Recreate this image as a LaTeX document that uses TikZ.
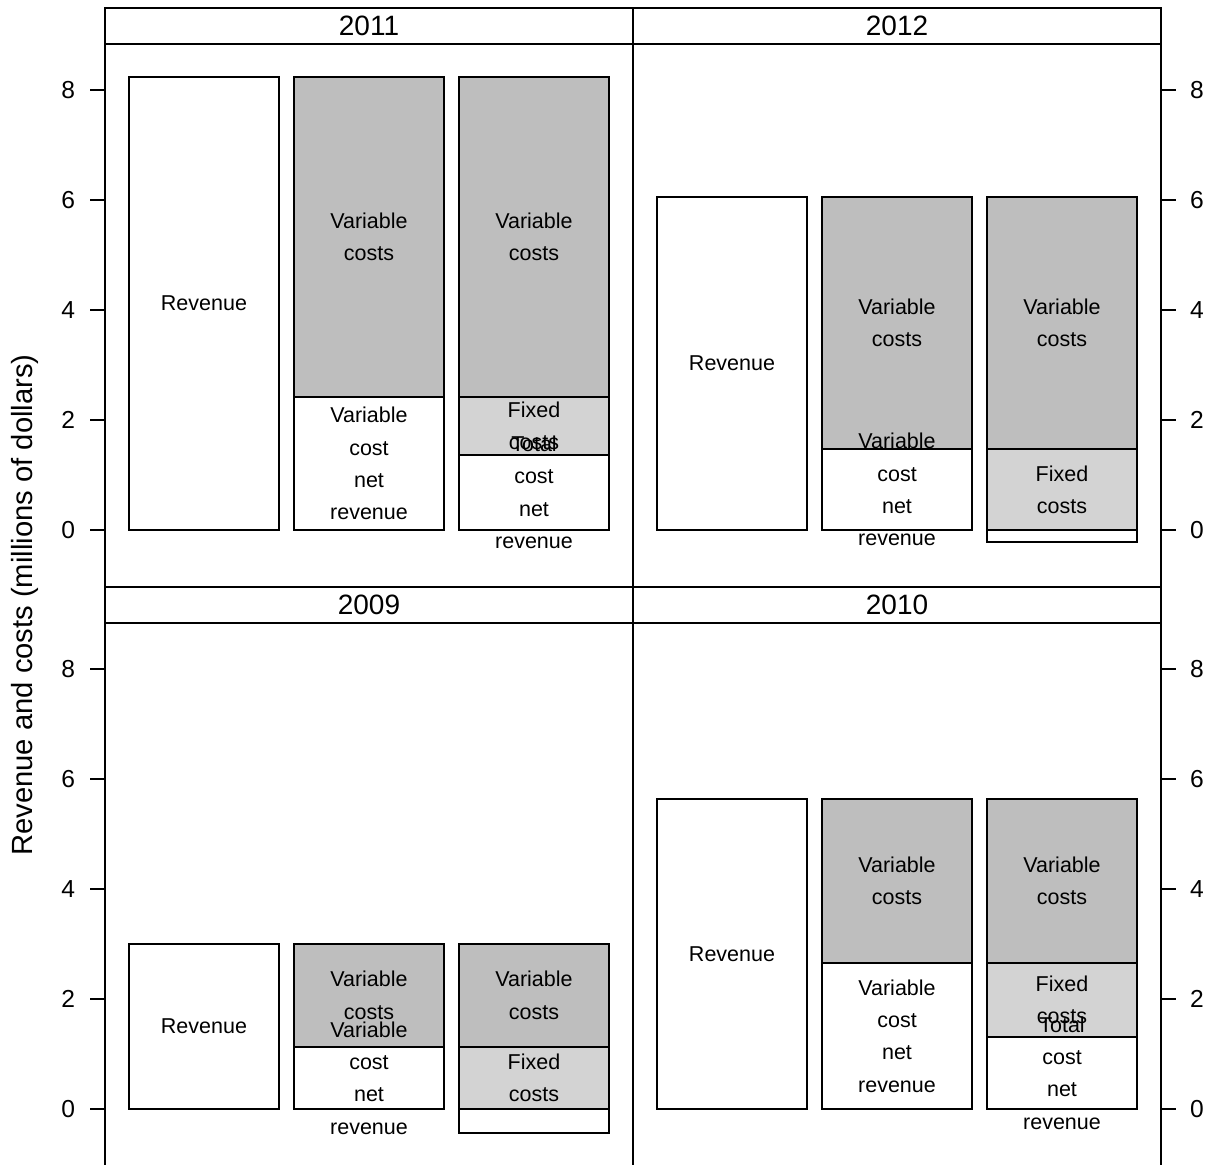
\documentclass[tikz,border=0pt]{standalone}
\usepackage{fontspec}
\setmainfont{Liberation Sans}
\definecolor{varfill}{gray}{0.745}
\definecolor{fixfill}{gray}{0.827}

\begin{document}
\begin{tikzpicture}
    [x=0.5pt, y=-0.5pt, line width=1pt,
     every node/.style={font=\fontsize{10.75}{16.2}\selectfont, align=center},
     ticknum/.style={font=\fontsize{12.3}{14}\selectfont},
     striptext/.style={font=\fontsize{14}{16}\selectfont},
     axistitle/.style={font=\fontsize{14.6}{16}\selectfont},
     varcost/.style={draw, fill=varfill},
     fixcost/.style={draw, fill=fixfill},
     netrev/.style={draw, fill=white},
     panelbox/.style={draw, fill=none}]

    \useasboundingbox (0,0) rectangle (1209,1164);
    \clip (0,0) rectangle (1209,1164);

    \node[axistitle, rotate=90] (ylab) at (25,605) {Revenue and costs (millions of dollars)};

    % 2011
    \begin{scope}[shift={(105,530)}, y=27.5pt]
      \draw[panelbox] (0,-1.036) rectangle (528,9.491);
      \draw (0,8.836) -- (528,8.836);
      \node[striptext] (s11) at (264,9.164) {2011};
      \foreach \v in {0,2,...,8}
        \draw (0,\v) -- (-15,\v) node[ticknum, left, inner xsep=7pt] (t11-\v) {\v};
      \draw[netrev] (24,0) rectangle (174,8.236);
      \draw[varcost] (189,2.418) rectangle (339,8.236);
      \draw[netrev] (189,0) rectangle (339,2.418);
      \draw[varcost] (354,2.418) rectangle (504,8.236);
      \draw[fixcost] (354,1.364) rectangle (504,2.418);
      \draw[netrev] (354,0) rectangle (504,1.364);
      \node (rev11) at (99,4.118) {Revenue};
      \node (var11b) at (264,5.327) {Variable\\costs};
      \node (net11b) at (264,1.209) {Variable\\cost\\net\\revenue};
      \node (var11c) at (429,5.327) {Variable\\costs};
      \node (fix11c) at (429,1.891) {Fixed\\costs};
      \node (net11c) at (429,0.682) {Total\\cost\\net\\revenue};
    \end{scope}

    % 2012
    \begin{scope}[shift={(633,530)}, y=27.5pt]
      \draw[panelbox] (0,-1.036) rectangle (528,9.491);
      \draw (0,8.836) -- (528,8.836);
      \node[striptext] (s12) at (264,9.164) {2012};
      \foreach \v in {0,2,...,8}
        \draw (528,\v) -- (543,\v) node[ticknum, right, inner xsep=6.5pt] (t12-\v) {\v};
      \draw[netrev] (24,0) rectangle (174,6.055);
      \draw[varcost] (189,1.473) rectangle (339,6.055);
      \draw[netrev] (189,0) rectangle (339,1.473);
      \draw[varcost] (354,1.473) rectangle (504,6.055);
      \draw[fixcost] (354,0) rectangle (504,1.473);
      \draw[netrev] (354,-0.218) rectangle (504,0);
      \node (rev12) at (99,3.027) {Revenue};
      \node (var12b) at (264,3.764) {Variable\\costs};
      \node (net12b) at (264,0.736) {Variable\\cost\\net\\revenue};
      \node (var12c) at (429,3.764) {Variable\\costs};
      \node (fix12c) at (429,0.736) {Fixed\\costs};
    \end{scope}

    % 2009
    \begin{scope}[shift={(105,1109)}, y=27.5pt]
      \draw[panelbox] (0,-1.036) rectangle (528,9.491);
      \draw (0,8.836) -- (528,8.836);
      \node[striptext] (s09) at (264,9.164) {2009};
      \foreach \v in {0,2,...,8}
        \draw (0,\v) -- (-15,\v) node[ticknum, left, inner xsep=7pt] (t09-\v) {\v};
      \draw[netrev] (24,0) rectangle (174,3.0);
      \draw[varcost] (189,1.127) rectangle (339,3.0);
      \draw[netrev] (189,0) rectangle (339,1.127);
      \draw[varcost] (354,1.127) rectangle (504,3.0);
      \draw[fixcost] (354,0) rectangle (504,1.127);
      \draw[netrev] (354,-0.436) rectangle (504,0);
      \node (rev09) at (99,1.5) {Revenue};
      \node (var09b) at (264,2.064) {Variable\\costs};
      \node (net09b) at (264,0.564) {Variable\\cost\\net\\revenue};
      \node (var09c) at (429,2.064) {Variable\\costs};
      \node (fix09c) at (429,0.564) {Fixed\\costs};
    \end{scope}

    % 2010
    \begin{scope}[shift={(633,1109)}, y=27.5pt]
      \draw[panelbox] (0,-1.036) rectangle (528,9.491);
      \draw (0,8.836) -- (528,8.836);
      \node[striptext] (s10) at (264,9.164) {2010};
      \foreach \v in {0,2,...,8}
        \draw (528,\v) -- (543,\v) node[ticknum, right, inner xsep=6.5pt] (t10-\v) {\v};
      \draw[netrev] (24,0) rectangle (174,5.636);
      \draw[varcost] (189,2.655) rectangle (339,5.636);
      \draw[netrev] (189,0) rectangle (339,2.655);
      \draw[varcost] (354,2.655) rectangle (504,5.636);
      \draw[fixcost] (354,1.309) rectangle (504,2.655);
      \draw[netrev] (354,0) rectangle (504,1.309);
      \node (rev10) at (99,2.818) {Revenue};
      \node (var10b) at (264,4.145) {Variable\\costs};
      \node (net10b) at (264,1.327) {Variable\\cost\\net\\revenue};
      \node (var10c) at (429,4.145) {Variable\\costs};
      \node (fix10c) at (429,1.982) {Fixed\\costs};
      \node (net10c) at (429,0.655) {Total\\cost\\net\\revenue};
    \end{scope}
\end{tikzpicture}
\end{document}
